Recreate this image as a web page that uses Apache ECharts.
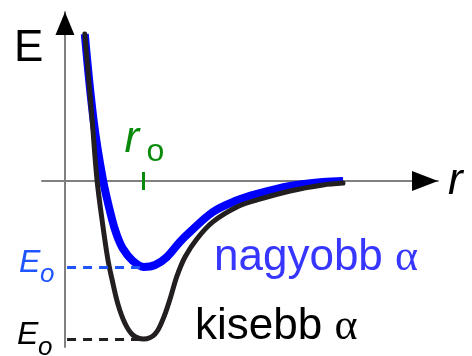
<!DOCTYPE html>
<html>
<head>
<meta charset="utf-8">
<script src="https://cdn.jsdelivr.net/npm/echarts@6/dist/echarts.min.js"></script>
<style>
  html, body { margin: 0; padding: 0; background: #fff; }
  #chart { width: 472px; height: 356px; }
</style>
</head>
<body>
<div id="chart"></div>
<script>
// Morse-type potential energy curves E(r), energy in units of the deeper well depth
const rKisebb = [0.57, 0.78, 0.92, 1.09, 1.24, 1.35, 1.52, 1.72, 1.95, 2.26, 2.59, 2.82, 3.02, 3.22, 3.45, 3.79, 4.25, 4.94, 5.52, 6.47, 7.41, 7.99];
const eKisebb = [0.93, 0.39, 0.01, -0.285, -0.506, -0.62, -0.778, -0.899, -0.975, -1.0, -0.968, -0.873, -0.747, -0.601, -0.481, -0.367, -0.259, -0.165, -0.12, -0.063, -0.025, -0.013];

const rNagyobb = [0.57, 0.82, 1.09, 1.35, 1.49, 1.67, 1.95, 2.26, 2.59, 2.93, 3.30, 3.59, 4.25, 4.89, 5.52, 6.47, 7.41, 7.99];
const eNagyobb = [0.93, 0.39, 0.01, -0.241, -0.342, -0.43, -0.506, -0.544, -0.532, -0.481, -0.386, -0.323, -0.196, -0.127, -0.082, -0.032, -0.006, 0];

// equilibrium distance and well minima
const r0 = 2.26;
const eMinKisebb = -1.0;
const eMinNagyobb = -0.544;

// axis extents
const rMin = -0.66, rMax = 10.72;
const eMin = -1.051, eMax = 1.07;

const zip = (xs, ys) => xs.map((x, i) => [x, ys[i]]);

const BLACK = '#231f20';
const BLUE = '#0000ff';
const BLUE_LABEL = '#1f55ff';
const BLUE_TEXT = '#3636ff';
const GREEN = '#0a8a0a';
const SANS = '"Liberation Sans", Arial, sans-serif';
const SERIF = '"Liberation Serif", "DejaVu Serif", serif';

const chart = echarts.init(document.getElementById('chart'), null, { renderer: 'canvas' });

chart.setOption({
  animation: false,
  backgroundColor: '#fff',
  grid: { left: 42, right: 34, top: 12, bottom: 9 },
  xAxis: {
    type: 'value', min: rMin, max: rMax,
    axisLine: { show: true, onZero: true, lineStyle: { color: '#808080', width: 2 } },
    axisTick: { show: false }, axisLabel: { show: false }, splitLine: { show: false }
  },
  yAxis: {
    type: 'value', min: eMin, max: eMax,
    axisLine: { show: true, onZero: true, lineStyle: { color: '#808080', width: 2 } },
    axisTick: { show: false }, axisLabel: { show: false }, splitLine: { show: false }
  },
  series: [
    {
      name: 'nagyobb α', type: 'line', data: zip(rNagyobb, eNagyobb),
      smooth: 0.35, symbol: 'none',
      lineStyle: { color: BLUE, width: 8, cap: 'butt', join: 'round' },
      markLine: {
        silent: true, symbol: ['none', 'none'], label: { show: false },
        lineStyle: { color: BLUE_LABEL, width: 3, type: [9, 7] },
        data: [[{ coord: [0.06, eMinNagyobb] }, { coord: [r0, eMinNagyobb] }]]
      },
      z: 2
    },
    {
      name: 'kisebb α', type: 'line', data: zip(rKisebb, eKisebb),
      smooth: 0.35, symbol: 'none',
      lineStyle: { color: BLACK, width: 5, cap: 'round', join: 'round' },
      markLine: {
        silent: true, symbol: ['none', 'none'], label: { show: false },
        data: [
          [{ coord: [0.06, eMinKisebb], lineStyle: { color: BLACK, width: 3, type: [9, 7] } },
           { coord: [r0, eMinKisebb] }],
          [{ coord: [r0, 0.057], lineStyle: { color: GREEN, width: 3, type: 'solid' } },
           { coord: [r0, -0.057] }]
        ]
      },
      z: 3
    }
  ]
});

// arrowheads, axis names and curve annotations
function decorate() {
  const p = (r, e) => chart.convertToPixel({ gridIndex: 0 }, [r, e]);
  const yTip = p(0, eMax);
  const xTip = p(rMax, 0);
  const o0 = p(0, 0);
  const bluePt = p(0, eMinNagyobb);
  const blackPt = p(0, eMinKisebb);
  const tick = p(r0, 0);

  // texts are positioned by the top of their line box; baseline sits ~0.84 em lower
  const txt = (x, baseline, text, size, style, color) => ({
    type: 'text', x, y: baseline - 0.84 * size, z: 10,
    style: { text, font: style + ' ' + size + 'px ' + SANS, fill: color, align: 'left', verticalAlign: 'top' }
  });
  const richTxt = (x, baseline, text, color) => ({
    type: 'text', x, y: baseline - 0.84 * 44, z: 10,
    style: {
      text: '{t|' + text + ' }{g|α}', verticalAlign: 'top', align: 'left',
      rich: { t: { font: '44px ' + SANS, fill: color }, g: { font: '44px ' + SERIF, fill: color } }
    }
  });

  chart.setOption({
    graphic: [
      { type: 'polygon', z: 5, shape: { points: [[yTip[0], yTip[1]], [yTip[0] - 9.5, yTip[1] + 23], [yTip[0] + 9.5, yTip[1] + 23]] }, style: { fill: '#000' } },
      { type: 'polygon', z: 5, shape: { points: [[xTip[0], xTip[1]], [xTip[0] - 26, xTip[1] - 10], [xTip[0] - 26, xTip[1] + 10]] }, style: { fill: '#000' } },

      txt(14, 64, 'E', 44, 'normal', '#000'),
      txt(xTip[0] + 10, o0[1] + 16, 'r', 44, 'italic', '#000'),

      txt(tick[0] - 19, 155, 'r', 44, 'italic', GREEN),
      txt(tick[0] + 3, 163, 'o', 32, 'normal', GREEN),

      txt(19, bluePt[1] + 7, 'E', 32, 'italic', BLUE_LABEL),
      txt(40, bluePt[1] + 17, 'o', 26, 'italic', BLUE_LABEL),
      txt(17, blackPt[1] + 7, 'E', 32, 'italic', '#000'),
      txt(38, blackPt[1] + 18, 'o', 26, 'italic', '#000'),

      richTxt(214, 273, 'nagyobb', BLUE_TEXT),
      richTxt(195, 342, 'kisebb', '#000')
    ]
  });
}
decorate();
</script>
</body>
</html>
